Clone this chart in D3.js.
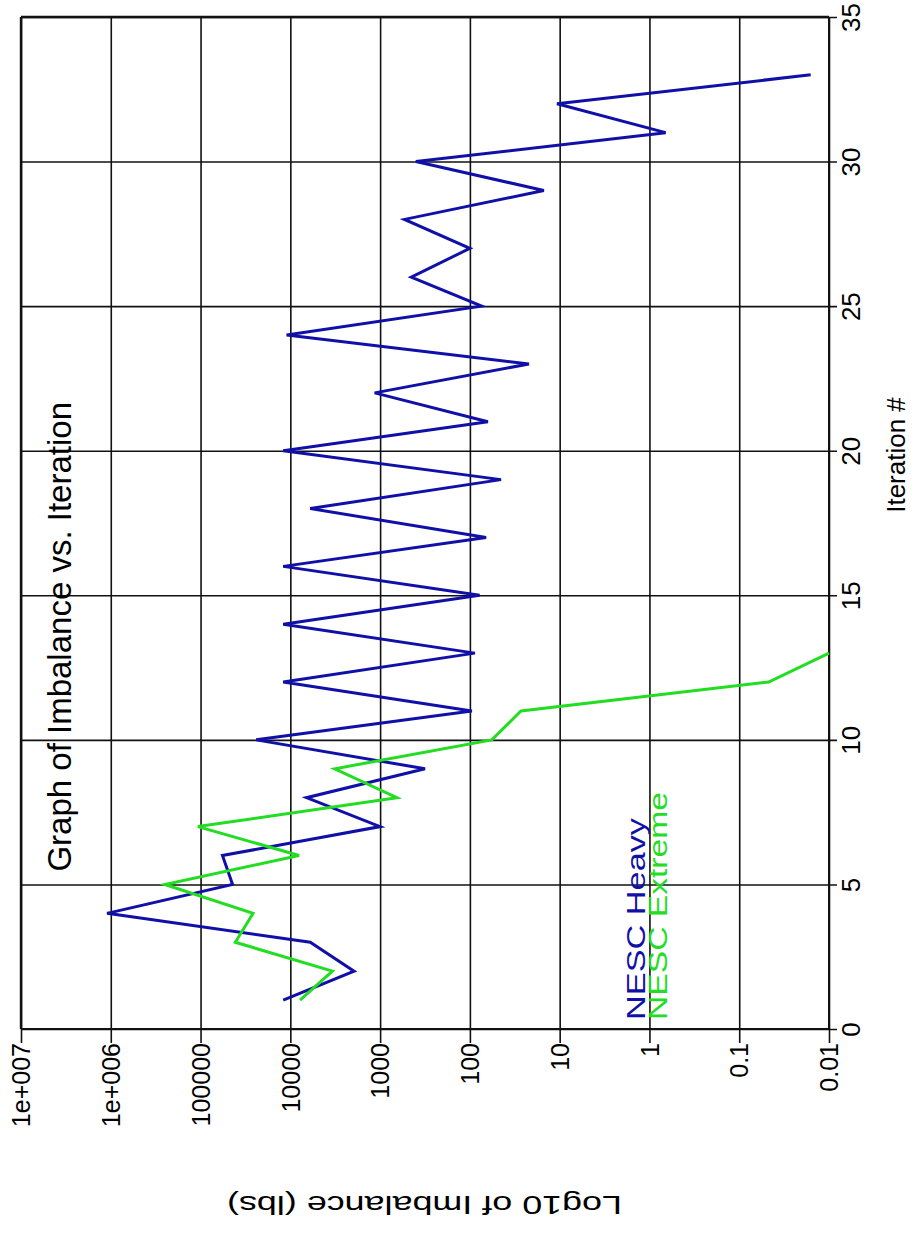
<!DOCTYPE html>
<html>
<head>
<meta charset="utf-8">
<script src="https://cdn.jsdelivr.net/npm/d3@7"></script>
<style>
  html, body { margin: 0; padding: 0; background: #fff; }
  svg { display: block; }
  text { font-family: Arial, "Liberation Sans", sans-serif; fill: #000; }
</style>
</head>
<body>
<svg id="chart" width="923" height="1251"></svg>
<script>
// Iteration numbers for each series
const heavyIter = d3.range(1, 34);
const extremeIter = d3.range(1, 14);

// Imbalance (lbs) per iteration
const heavyValues = [12000, 1950, 6000, 1100000, 44000, 57000, 1000, 6600, 316, 24000,
                     95, 12000, 88, 12000, 78, 12000, 66, 6000, 45, 12000,
                     63, 1150, 22, 11000, 74, 450, 100, 535, 15, 400,
                     0.66, 10.7, 0.016];
const extremeValues = [7800, 3400, 41000, 26000, 250000, 8000, 107000, 650, 3200, 57,
                       27, 0.047, 0.01];

// Axis ticks
const valueTicks = [1e7, 1e6, 1e5, 1e4, 1e3, 100, 10, 1, 0.1, 0.01];
const valueTickLabels = ["1e+007", "1e+006", "100000", "10000", "1000", "100", "10", "1", "0.1", "0.01"];
const iterTicks = [0, 5, 10, 15, 20, 25, 30, 35];
const iterTickLabels = ["0", "5", "10", "15", "20", "25", "30", "35"];

const seriesNames = ["NESC Heavy", "NESC Extreme"];
const seriesColors = ["#1010a8", "#22dd22"];

const svg = d3.select("#chart");
svg.append("rect").attr("width", 923).attr("height", 1251).attr("fill", "#fff");

// The plot is laid out turned on its side: iterations run bottom to top,
// imbalance runs from large (left) to small (right) on a log scale.
const plot = { left: 21, right: 829, top: 17, bottom: 1029 };
const x = d3.scaleLog().domain([1e7, 0.01]).range([plot.left, plot.right]);
const y = d3.scaleLinear().domain([0, 35]).range([plot.bottom, plot.top]);

// Log-value axis along the bottom, ticks reach up as grid lines
const xAxis = d3.axisBottom(x)
  .tickValues(valueTicks)
  .tickSizeOuter(0)
  .tickFormat((d, i) => valueTickLabels[i]);
const gx = svg.append("g").attr("transform", `translate(0,${plot.bottom})`).call(xAxis);
gx.select(".domain").remove();
gx.selectAll(".tick line").attr("y2", -(plot.bottom - plot.top)).attr("y1", 14)
  .attr("stroke", "#111").attr("stroke-width", 1.6);
gx.selectAll(".tick text")
  .attr("transform", "translate(0,14) rotate(-90)")
  .attr("x", 0).attr("y", 0).attr("dy", "0.35em")
  .attr("text-anchor", "end")
  .style("font-size", "25px")
  .style("font-family", "Arial, 'Liberation Sans', sans-serif")
  .attr("fill", "#000");

// Iteration axis along the right side, ticks reach across as grid lines
const yAxis = d3.axisRight(y)
  .tickValues(iterTicks)
  .tickSizeOuter(0)
  .tickFormat((d, i) => iterTickLabels[i]);
const gy = svg.append("g").attr("transform", `translate(${plot.right},0)`).call(yAxis);
gy.select(".domain").remove();
gy.selectAll(".tick line").attr("x1", -(plot.right - plot.left)).attr("x2", 8)
  .attr("stroke", "#111").attr("stroke-width", 1.6);
gy.selectAll(".tick text")
  .attr("transform", "translate(22,0) rotate(-90)")
  .attr("x", 0).attr("y", 0).attr("dy", "0.35em")
  .attr("text-anchor", "middle")
  .style("font-size", "26px")
  .style("font-family", "Arial, 'Liberation Sans', sans-serif")
  .attr("fill", "#000");

// Heavier frame edges
const frame = svg.append("g").attr("stroke", "#111");
frame.append("line").attr("x1", plot.left).attr("x2", plot.right).attr("y1", plot.top).attr("y2", plot.top).attr("stroke-width", 2.4);
frame.append("line").attr("x1", plot.left).attr("x2", plot.left).attr("y1", plot.top).attr("y2", plot.bottom).attr("stroke-width", 2.4);
frame.append("line").attr("x1", plot.left).attr("x2", plot.right).attr("y1", plot.bottom).attr("y2", plot.bottom).attr("stroke-width", 2);
frame.append("line").attr("x1", plot.right).attr("x2", plot.right).attr("y1", plot.top).attr("y2", plot.bottom).attr("stroke-width", 2);

// Series lines
const line = d3.line().x(d => x(d.v)).y(d => y(d.i));
const heavy = heavyIter.map((it, k) => ({ i: it, v: heavyValues[k] }));
const extreme = extremeIter.map((it, k) => ({ i: it, v: extremeValues[k] }));

svg.append("path").datum(heavy).attr("d", line)
  .attr("fill", "none").attr("stroke", seriesColors[0]).attr("stroke-width", 3)
  .attr("stroke-linejoin", "miter");
svg.append("path").datum(extreme).attr("d", line)
  .attr("fill", "none").attr("stroke", seriesColors[1]).attr("stroke-width", 3)
  .attr("stroke-linejoin", "miter");

// Title
svg.append("text")
  .attr("transform", "translate(71,402) rotate(-90)")
  .attr("text-anchor", "end")
  .style("font-size", "33px")
  .text("Graph of Imbalance vs. Iteration");

// Legend (wide lettering)
const legendLengths = [202, 228];
seriesNames.forEach((name, k) => {
  svg.append("text")
    .attr("transform", `translate(${645 + k * 22},1020) rotate(-90)`)
    .attr("text-anchor", "start")
    .attr("textLength", legendLengths[k])
    .attr("lengthAdjust", "spacingAndGlyphs")
    .style("font-size", "26px")
    .style("fill", seriesColors[k])
    .text(name);
});

// Axis titles
svg.append("text")
  .attr("transform", "translate(425,1196) rotate(180)")
  .attr("text-anchor", "middle")
  .attr("x", -197)
  .attr("textLength", 395)
  .attr("lengthAdjust", "spacingAndGlyphs")
  .style("font-size", "26px")
  .style("text-anchor", "start")
  .text("Log10 of Imbalance (lbs)");

svg.append("text")
  .attr("transform", "translate(905,455) rotate(-90)")
  .attr("text-anchor", "middle")
  .style("font-size", "26px")
  .text("Iteration #");
</script>
</body>
</html>
